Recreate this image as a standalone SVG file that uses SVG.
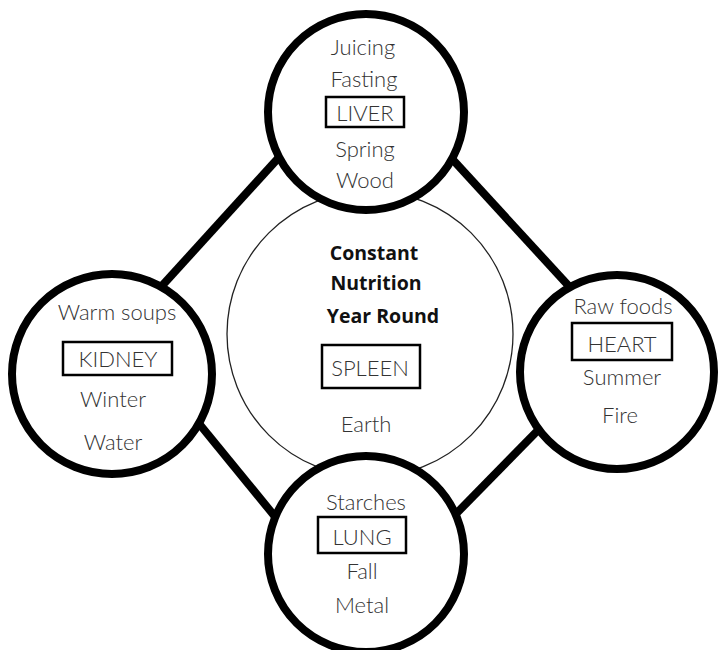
<svg xmlns="http://www.w3.org/2000/svg" width="718" height="650" viewBox="0 0 718 650">
<style>
.ring{fill:#fff;stroke:#000;stroke-width:8}
.core{fill:#fff;stroke:#222;stroke-width:1.3}
.con{stroke:#000;stroke-width:8;stroke-linecap:butt;fill:none}
.t{font-family:"Lato","Open Sans","Liberation Sans",sans-serif;font-weight:300;font-size:22px;fill:#333;text-anchor:middle}
.b{font-family:"Open Sans","Liberation Sans",sans-serif;font-weight:700;font-size:19.5px;fill:#111;text-anchor:middle}
.box{fill:none;stroke:#000;stroke-width:2.5}
</style>
<rect width="718" height="650" fill="#fff"/>
<g id="connectors">
<line class="con" x1="160" y1="288" x2="292" y2="143"/>
<line class="con" x1="443" y1="149" x2="577" y2="295"/>
<line class="con" x1="192" y1="415" x2="290" y2="535"/>
<line class="con" x1="448" y1="522" x2="550" y2="418"/>
</g>
<g id="spleen">
<circle class="core" cx="370" cy="334" r="143"/>
<text class="b" x="374" y="260">Constant</text>
<text class="b" x="376" y="290">Nutrition</text>
<text class="b" x="383" y="323">Year Round</text>
<rect class="box" x="322" y="345" width="98" height="43"/>
<text class="t" x="370" y="376">SPLEEN</text>
<text class="t" x="366" y="432">Earth</text>
</g>
<g id="liver">
<circle class="ring" cx="366" cy="112" r="98"/>
<text class="t" x="363" y="55">Juicing</text>
<text class="t" x="364" y="87">Fasting</text>
<rect class="box" x="326" y="97" width="78" height="30"/>
<text class="t" x="365" y="121">LIVER</text>
<text class="t" x="365" y="157">Spring</text>
<text class="t" x="365" y="188">Wood</text>
</g>
<g id="kidney">
<circle class="ring" cx="112" cy="374" r="100"/>
<text class="t" x="117" y="320">Warm soups</text>
<rect class="box" x="63" y="342" width="109" height="33"/>
<text class="t" x="118" y="367">KIDNEY</text>
<text class="t" x="113" y="407">Winter</text>
<text class="t" x="113" y="450">Water</text>
</g>
<g id="heart">
<circle class="ring" cx="617" cy="372" r="97"/>
<text class="t" x="623" y="314">Raw foods</text>
<rect class="box" x="572" y="323" width="100" height="37"/>
<text class="t" x="622" y="352">HEART</text>
<text class="t" x="622" y="385">Summer</text>
<text class="t" x="620" y="423">Fire</text>
</g>
<g id="lung">
<circle class="ring" cx="366" cy="554" r="98"/>
<text class="t" x="366" y="510">Starches</text>
<rect class="box" x="318" y="517" width="88" height="36"/>
<text class="t" x="362" y="545">LUNG</text>
<text class="t" x="362" y="579">Fall</text>
<text class="t" x="362" y="613">Metal</text>
</g>
</svg>
